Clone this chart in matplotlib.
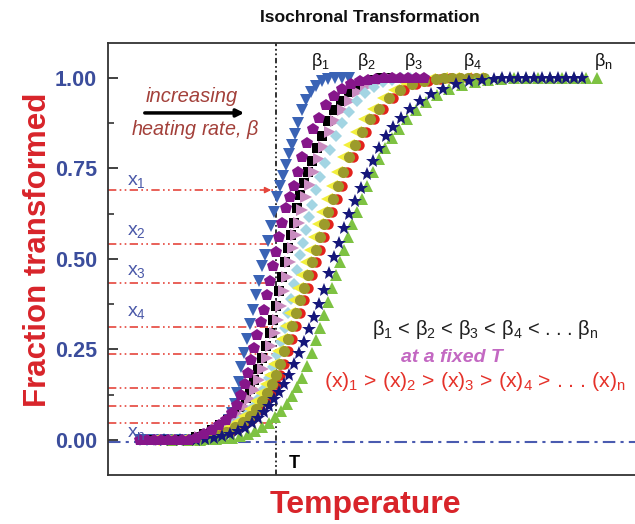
import matplotlib
matplotlib.use("Agg")
import matplotlib.pyplot as plt
from matplotlib.ticker import MultipleLocator, NullLocator

plt.rcParams['font.family'] = ['Liberation Sans', 'DejaVu Sans']
plt.rcParams['mathtext.fontset'] = 'custom'
plt.rcParams['mathtext.rm'] = 'Liberation Sans'
plt.rcParams['mathtext.it'] = 'Liberation Sans:italic'
plt.rcParams['mathtext.bf'] = 'Liberation Sans:bold'

# fraction transformed vs temperature (arbitrary units), one list of (T, x) per heating rate
blue_pts = [(140, 0), (147, 0), (154, 0), (161, 0), (168, 0), (175, 0), (182, 0), (189, 0), (196, 0),
            (203, 0.004), (209, 0.008), (215, 0.015), (220, 0.025), (225, 0.038), (229, 0.055), (232, 0.075),
            (235, 0.10), (237, 0.13), (239, 0.16), (241, 0.20), (244, 0.24), (247, 0.28), (250, 0.32),
            (253, 0.36), (256, 0.40), (259, 0.44), (262, 0.48), (265, 0.51), (268, 0.55), (271, 0.59),
            (274, 0.63), (277, 0.67), (280, 0.70), (283, 0.73), (286, 0.76), (289, 0.79), (292, 0.815),
            (295, 0.845), (298, 0.875), (302, 0.91), (306, 0.94), (311, 0.96), (316, 0.977), (322, 0.99),
            (328, 0.996), (335, 1.0), (342, 1.0), (349, 1.0)]
purple_pts = [(140, 0), (147, 0), (154, 0), (161, 0), (168, 0), (175, 0), (182, 0), (189, 0),
              (196, 0.006), (204, 0.015), (212, 0.027), (219, 0.04), (226, 0.055), (232, 0.075), (237, 0.095),
              (241, 0.125), (245, 0.155), (248, 0.185), (251, 0.22), (254, 0.255), (257, 0.29), (261, 0.325),
              (264, 0.36), (267, 0.40), (270, 0.44), (273, 0.48), (276, 0.52), (279, 0.56), (282, 0.60),
              (286, 0.64), (290, 0.67), (294, 0.70), (298, 0.74), (302, 0.78), (307, 0.82), (313, 0.86),
              (319, 0.89), (326, 0.925), (334, 0.95), (342, 0.97), (351, 0.983), (360, 0.99), (368, 0.995),
              (376, 0.998), (384, 1.0), (392, 1.0), (400, 1.0), (408, 1.0), (416, 1.0), (424, 1.0)]
black_pts = [(154, 0), (168, 0), (182, 0), (189, 0), (196, 0.008), (204, 0.016), (212, 0.028), (220, 0.04),
             (228, 0.055), (235, 0.072), (241, 0.092), (246, 0.115), (250, 0.14), (254, 0.165), (258, 0.195),
             (262, 0.225), (266, 0.26), (270, 0.295), (273, 0.33), (276, 0.37), (279, 0.41), (282, 0.45),
             (285, 0.49), (288, 0.53), (291, 0.565), (294, 0.60), (297, 0.64), (300, 0.675), (304, 0.71),
             (308, 0.74), (312, 0.77), (317, 0.805), (322, 0.84), (328, 0.88), (334, 0.91), (341, 0.935),
             (349, 0.96), (357, 0.975), (365, 0.987), (373, 0.995), (381, 1.0), (389, 1.0)]
pink_pts = [(161, 0), (175, 0), (189, 0), (200, 0.008), (208, 0.015), (216, 0.026), (224, 0.038), (232, 0.053),
            (239, 0.07), (245, 0.09), (250, 0.112), (255, 0.138), (259, 0.165), (263, 0.195), (267, 0.225),
            (271, 0.26), (275, 0.295), (278, 0.33), (281, 0.37), (284, 0.41), (287, 0.45), (290, 0.49),
            (293, 0.53), (296, 0.565), (299, 0.60), (302, 0.635), (306, 0.67), (310, 0.705), (314, 0.74),
            (319, 0.775), (324, 0.81), (330, 0.85), (336, 0.88), (343, 0.91), (350, 0.935), (358, 0.96),
            (366, 0.975), (374, 0.988), (382, 0.995), (390, 1.0), (398, 1.0)]
lblue_pts = [(147, 0), (161, 0), (175, 0), (189, 0), (205, 0.008), (214, 0.016), (223, 0.027), (232, 0.04),
             (240, 0.055), (247, 0.072), (253, 0.092), (259, 0.115), (264, 0.14), (269, 0.17), (273, 0.20),
             (277, 0.235), (281, 0.27), (285, 0.31), (288, 0.35), (291, 0.39), (294, 0.43), (297, 0.47),
             (300, 0.51), (303, 0.545), (306, 0.58), (309, 0.615), (312, 0.65), (316, 0.69), (320, 0.725),
             (325, 0.765), (330, 0.80), (336, 0.84), (342, 0.875), (349, 0.905), (357, 0.935), (365, 0.957),
             (374, 0.975), (383, 0.988), (392, 0.995), (401, 1.0), (410, 1.0)]
yellow_pts = [(154, 0), (168, 0), (182, 0), (190, 0.003), (200, 0.006), (210, 0.013), (220, 0.023), (229, 0.035),
              (237, 0.05), (244, 0.066), (250, 0.085), (256, 0.107), (261, 0.13), (266, 0.155), (270, 0.18),
              (274, 0.21), (278, 0.245), (282, 0.28), (286, 0.315), (290, 0.35), (294, 0.385), (298, 0.42),
              (302, 0.455), (306, 0.49), (310, 0.525), (314, 0.56), (318, 0.595), (322, 0.63), (327, 0.665),
              (332, 0.70), (337, 0.74), (343, 0.78), (349, 0.815), (356, 0.85), (364, 0.885), (373, 0.915),
              (383, 0.943), (394, 0.965), (406, 0.982), (418, 0.992), (430, 0.997), (442, 1.0), (454, 1.0),
              (466, 1.0), (478, 1.0)]
red_pts = [(200, 0.003), (210, 0.006), (220, 0.013), (230, 0.023), (239, 0.035), (247, 0.05), (254, 0.066),
           (260, 0.085), (266, 0.107), (271, 0.13), (276, 0.155), (280, 0.18), (284, 0.21), (288, 0.245),
           (292, 0.28), (296, 0.315), (300, 0.35), (304, 0.385), (308, 0.42), (312, 0.455), (316, 0.49),
           (320, 0.525), (324, 0.56), (328, 0.595), (332, 0.63), (337, 0.665), (342, 0.70), (347, 0.74),
           (353, 0.78), (359, 0.815), (366, 0.85), (374, 0.885), (383, 0.915), (393, 0.943), (404, 0.965),
           (416, 0.982), (428, 0.992), (440, 0.997), (450, 1.0), (460, 1.0), (470, 1.0)]
olive_pts = [(196, 0.003), (206, 0.006), (216, 0.013), (226, 0.023), (235, 0.035), (243, 0.05), (250, 0.066),
             (256, 0.085), (262, 0.107), (267, 0.13), (272, 0.155), (276, 0.18), (280, 0.21), (284, 0.245),
             (288, 0.28), (292, 0.315), (296, 0.35), (300, 0.385), (304, 0.42), (308, 0.455), (312, 0.49),
             (316, 0.525), (320, 0.56), (324, 0.595), (328, 0.63), (333, 0.665), (338, 0.70), (343, 0.74),
             (349, 0.78), (355, 0.815), (362, 0.85), (370, 0.885), (379, 0.915), (389, 0.943), (400, 0.965),
             (412, 0.982), (424, 0.992), (436, 0.997), (444, 1.0), (452, 1.0), (460, 1.0), (468, 1.0),
             (476, 1.0), (484, 1.0)]
green_pts = [(172, 0), (188, 0), (200, 0), (208, 0.002), (216, 0.003), (224, 0.004), (232, 0.006), (240, 0.01),
             (248, 0.016), (255, 0.024), (262, 0.035), (269, 0.048), (275, 0.062), (281, 0.08), (287, 0.1),
             (292, 0.122), (297, 0.145), (302, 0.172), (307, 0.205), (312, 0.24), (316, 0.275), (320, 0.31),
             (324, 0.345), (328, 0.38), (332, 0.42), (336, 0.455), (340, 0.49), (344, 0.525), (348, 0.56),
             (352, 0.595), (357, 0.63), (362, 0.665), (367, 0.70), (373, 0.74), (379, 0.775), (385, 0.805),
             (392, 0.835), (399, 0.86), (407, 0.885), (416, 0.91), (426, 0.932), (437, 0.952), (449, 0.968),
             (462, 0.98), (475, 0.988), (488, 0.993), (501, 0.997), (514, 1.0), (526, 1.0), (538, 1.0),
             (550, 1.0), (562, 1.0), (574, 1.0), (586, 1.0), (597, 1.0)]
navy_pts = [(164, 0), (180, 0), (196, 0), (205, 0.002), (214, 0.005), (222, 0.01), (230, 0.016), (238, 0.024),
            (245, 0.034), (252, 0.047), (258, 0.06), (264, 0.077), (269, 0.094), (274, 0.113), (279, 0.132),
            (284, 0.155), (289, 0.18), (294, 0.21), (299, 0.24), (304, 0.27), (309, 0.305), (314, 0.34),
            (319, 0.375), (324, 0.415), (329, 0.46), (334, 0.505), (339, 0.545), (344, 0.585), (349, 0.625),
            (355, 0.66), (361, 0.695), (367, 0.735), (373, 0.77), (379, 0.805), (386, 0.84), (393, 0.865),
            (401, 0.89), (410, 0.913), (420, 0.935), (431, 0.955), (443, 0.97), (456, 0.982), (469, 0.99),
            (482, 0.995), (494, 0.998), (502, 1.0), (510, 1.0), (518, 1.0), (526, 1.0), (534, 1.0),
            (542, 1.0), (550, 1.0), (558, 1.0), (566, 1.0), (574, 1.0), (582, 1.0)]

T_fixed = 276
x_levels = [0.69, 0.541, 0.434, 0.312, 0.238, 0.144, 0.094, 0.047]
x_labels = [r'$\mathrm{x}_1$', r'$\mathrm{x}_2$', r'$\mathrm{x}_3$', r'$\mathrm{x}_4$', r'$\mathrm{x}_\mathrm{n}$']
x_label_y = [0.713, 0.575, 0.464, 0.351, 0.019]
beta_labels = [r'$\mathrm{\beta}_1$', r'$\mathrm{\beta}_2$', r'$\mathrm{\beta}_3$', r'$\mathrm{\beta}_4$',
               r'$\mathrm{\beta}_\mathrm{n}$']
beta_label_T = [320, 366, 414, 473, 603]

# draw order, marker, colour, size
series = [
    (blue_pts, 'v', '#3a63b5', 9),
    (black_pts, 's', '#000000', 7),
    (pink_pts, '>', '#c98bbf', 8.5),
    (lblue_pts, 'D', '#a3d5e3', 6.5),
    (yellow_pts, '<', '#f2ef3c', 8.5),
    (red_pts, 'o', '#e3221c', 7.5),
    (olive_pts, 'o', '#9c9b2b', 8),
    (green_pts, '^', '#7ec242', 9),
    (navy_pts, '*', '#15167a', 10),
    (purple_pts, 'p', '#86168a', 9),
]

fig = plt.figure(figsize=(6.35, 5.24), dpi=100)
ax = fig.add_axes([108 / 635, 1 - 475 / 524, 1 - 108 / 635, (475 - 42.7) / 524])
ax.set_xlim(108, 635)
ax.set_ylim(-0.097, 1.097)

# reference lines
ax.plot([108, 635], [-0.006, -0.006], color='#4a5bb0', lw=1.5, dashes=(6, 2.5, 1.5, 2.5), zorder=1)
ax.plot([T_fixed, T_fixed], [-0.097, 1.097], color='#222222', lw=1.3, dashes=(3, 1.5, 1, 1.5, 1, 1.5), zorder=1)
for lv in x_levels:
    ax.plot([108, T_fixed], [lv, lv], color='#e5463c', lw=1.2, dashes=(5, 2, 1, 2, 1, 2), zorder=1)
ax.annotate('', xy=(T_fixed - 2, x_levels[0]), xytext=(T_fixed - 12, x_levels[0]),
            arrowprops=dict(arrowstyle='-|>', color='#e5463c', lw=1.1, mutation_scale=9))

for pts, mk, col, ms in series:
    t = [p[0] for p in pts]
    f = [p[1] for p in pts]
    ax.plot(t, f, linestyle='none', marker=mk, color=col, markersize=ms, markeredgewidth=0, zorder=3)

# annotations
txt_col = '#a3403a'
ax.text(192, 0.948, 'increasing', color=txt_col, fontsize=14.5, style='italic', ha='center', va='center')
ax.annotate('', xy=(247, 0.903), xytext=(142, 0.903),
            arrowprops=dict(arrowstyle='-|>', color='black', lw=2.5, mutation_scale=11))
ax.text(195, 0.856, r'heating rate, $\mathit{\beta}$', color=txt_col, fontsize=14.2, style='italic',
        ha='center', va='center')

for lab, yy in zip(x_labels, x_label_y):
    ax.text(127, yy, lab, color='#4a58a8', fontsize=14, ha='left', va='center', zorder=4)

for lab, tt in zip(beta_labels, beta_label_T):
    ax.text(tt, 1.044, lab, color='#111111', fontsize=13, ha='center', va='center')

ax.text(485, 0.304, r'$\mathrm{\beta}_1$ < $\mathrm{\beta}_2$ < $\mathrm{\beta}_3$ < $\mathrm{\beta}_4$ < . . . $\mathrm{\beta}_\mathrm{n}$',
        color='#222222', fontsize=14.5, ha='center', va='center')
ax.text(452, 0.227, 'at a fixed T', color='#c368c2', fontsize=14, fontweight='bold', style='italic',
        ha='center', va='center')
ax.text(475, 0.162, r'(x)$_1$ > (x)$_2$ > (x)$_3$ > (x)$_4$ > . . . (x)$_\mathrm{n}$',
        color='#e5322a', fontsize=15.3, ha='center', va='center')
ax.text(289, -0.064, 'T', color='black', fontsize=13, fontweight='bold', ha='left', va='center')

# axes styling
for side in ['left', 'top', 'bottom']:
    ax.spines[side].set_linewidth(1.3)
    ax.spines[side].set_color('#333333')
ax.spines['right'].set_visible(False)
ax.xaxis.set_major_locator(NullLocator())
ax.yaxis.set_major_locator(MultipleLocator(0.25))
ax.yaxis.set_minor_locator(MultipleLocator(0.125))
ax.tick_params(axis='y', which='major', direction='in', length=7, width=1.3, color='#333333',
               labelsize=15.5, labelcolor='#3b4d9c', pad=8)
ax.tick_params(axis='y', which='minor', direction='in', length=4, width=1.2, color='#333333')
ax.set_yticks([0, 0.25, 0.5, 0.75, 1.0])
ax.set_yticklabels(['0.00', '0.25', '0.50', '0.75', '1.00'], fontweight='bold')

fig.text(370 / 635, 1 - 18 / 524, 'Isochronal Transformation', fontsize=12.6, fontweight='bold',
         ha='center', va='center', color='#111111')
fig.text(38 / 635, 1 - 250 / 524, 'Fraction transformed', fontsize=22.5, fontweight='bold', color='#d8242a',
         rotation=90, ha='center', va='center')
fig.text(365 / 635, 1 - 505 / 524, 'Temperature', fontsize=23, fontweight='bold', color='#d8242a',
         ha='center', va='center')

fig.savefig('out.png', dpi=100)
